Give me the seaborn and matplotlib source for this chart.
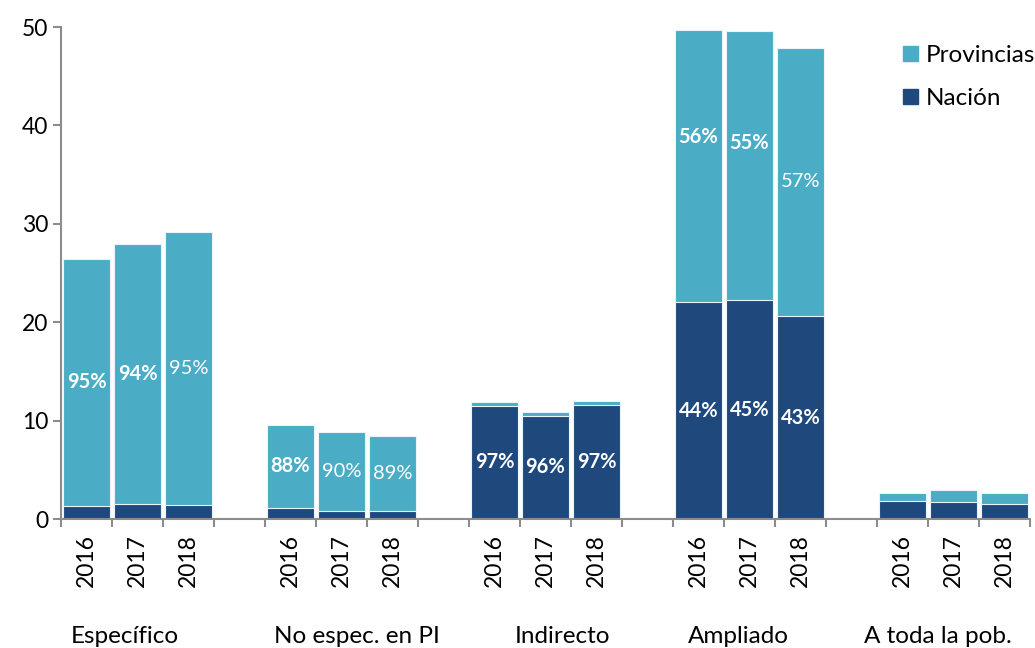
import matplotlib
matplotlib.use('Agg')
import matplotlib.pyplot as plt
import matplotlib.transforms as mtransforms
from matplotlib.patches import Patch
import seaborn as sns
import pandas as pd
import numpy as np

# Datos (miles de millones, aprox.)
grupos = ['Específico', 'No espec. en PI', 'Indirecto', 'Ampliado', 'A toda la pob.']
anios = ['2016', '2017', '2018']
total = [26.4, 27.9, 29.2,
         9.55, 8.85, 8.45,
         11.9, 10.9, 12.0,
         49.65, 49.55, 47.9,
         2.65, 2.9, 2.65]
nacion = [1.35, 1.55, 1.4,
          1.15, 0.85, 0.85,
          11.5, 10.5, 11.6,
          22.05, 22.25, 20.6,
          1.85, 1.75, 1.5]
pct_prov = ['95%', '94%', '95%', '88%', '90%', '89%', None, None, None,
            '56%', '55%', '57%', None, None, None]
bold_prov = [True, True, False, True, False, False, False, False, False,
             True, True, False, False, False, False]
pct_nac = [None] * 6 + ['97%', '96%', '97%', '44%', '45%', '43%'] + [None] * 3

# posición de algunas etiquetas (en el original no van centradas)
y_etq_prov = {9: 38.8, 10: 38.2}
desp_grupo = [-0.25, 0.3, 0.33, -0.22, -0.31]

COL_PROV = '#4BACC6'
COL_NAC = '#1F497D'
GRIS = '#8c8c8c'

# slots: 3 barras por grupo + un hueco entre grupos
order = []
for gi, g in enumerate(grupos):
    for a in anios:
        order.append(f'{g}|{a}')
    if gi < len(grupos) - 1:
        order.append(f'hueco{gi}')

df = pd.DataFrame({
    'slot': [f'{g}|{a}' for g in grupos for a in anios],
    'total': total,
    'nacion': nacion,
})

sns.set_theme(style='white')
plt.rcParams['font.family'] = ['Lato', 'DejaVu Sans']
plt.rcParams['text.color'] = 'black'
plt.rcParams['xtick.labelcolor'] = 'black'
plt.rcParams['ytick.labelcolor'] = 'black'

fig = plt.figure(figsize=(10.35, 6.48), dpi=100)
ax = fig.add_axes([61 / 1035, 129 / 648, 969 / 1035, 492 / 648])

sns.barplot(data=df, x='slot', y='total', order=order, color=COL_PROV,
            saturation=1, width=0.92, edgecolor='#e8f4f8', linewidth=0.8, ax=ax)
sns.barplot(data=df, x='slot', y='nacion', order=order, color=COL_NAC,
            saturation=1, width=0.92, edgecolor='#e8f4f8', linewidth=0.8, ax=ax)

# etiquetas de porcentaje
for i, s in enumerate(df['slot']):
    x = order.index(s)
    if pct_prov[i]:
        y = y_etq_prov.get(i, (nacion[i] + total[i]) / 2)
        ax.text(x, y, pct_prov[i], ha='center', va='center',
                color='white', fontsize=14.5,
                fontweight='bold' if bold_prov[i] else 'normal')
    if pct_nac[i]:
        ax.text(x, nacion[i] / 2, pct_nac[i], ha='center', va='center',
                color='white', fontsize=14.5, fontweight='bold')

ax.set_ylim(0, 50)
ax.set_xlim(-0.5, len(order) - 0.5)
ax.set_yticks(range(0, 51, 10))
ax.set_xticks(range(len(order)))
ax.set_xticklabels([s.split('|')[1] if '|' in s else '' for s in order],
                   rotation=90, fontsize=16.5)
ax.set_xticks(np.arange(-0.5, len(order), 1), minor=True)
ax.tick_params(axis='x', which='major', length=0, pad=11)
ax.tick_params(axis='x', which='minor', length=6, width=1.5, color=GRIS, direction='out', bottom=True)
ax.tick_params(axis='y', length=6, width=1.5, color=GRIS, direction='out', left=True, labelsize=16.5, pad=3)
ax.set_xlabel('')
ax.set_ylabel('')

for side in ['top', 'right']:
    ax.spines[side].set_visible(False)
for side in ['left', 'bottom']:
    ax.spines[side].set_color(GRIS)
    ax.spines[side].set_linewidth(1.5)

# nombres de grupo debajo de los años
trans = mtransforms.blended_transform_factory(ax.transData, ax.transAxes)
for gi, g in enumerate(grupos):
    centro = np.mean([order.index(f'{g}|{a}') for a in anios]) + desp_grupo[gi]
    ax.text(centro, -0.238, g, transform=trans, ha='center', va='center',
            fontsize=17.5, color='black')

handles = [Patch(color=COL_PROV, label='Provincias'), Patch(color=COL_NAC, label='Nación')]
fig.legend(handles=handles, loc='upper left', bbox_to_anchor=(903 / 1035, 1 - 45 / 648),
           frameon=False, fontsize=17.5, handlelength=0.6, handleheight=0.6,
           handletextpad=0.35, labelspacing=0.9, borderpad=0, borderaxespad=0,
           labelcolor='black')

plt.savefig('out.png', dpi=100)
plt.close()
